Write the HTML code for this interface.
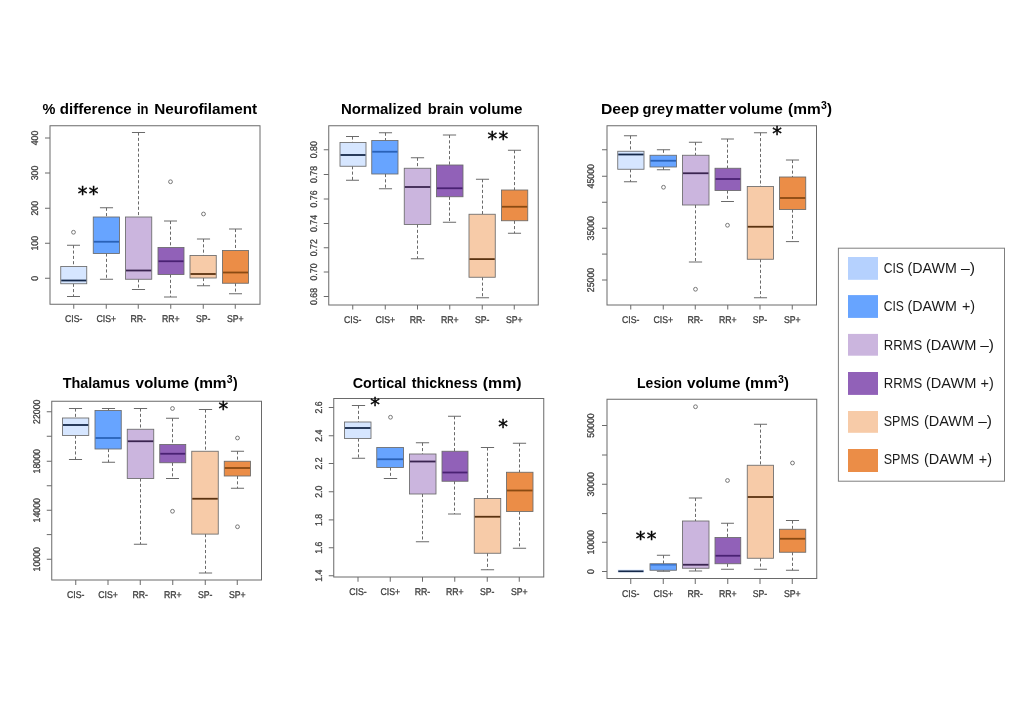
<!DOCTYPE html>
<html lang="en"><head><meta charset="utf-8"><title>Boxplots</title>
<style>
html,body{margin:0;padding:0;background:#fff;}
body{width:1020px;height:720px;overflow:hidden;}
svg{display:block;}
.ti{font-family:"Liberation Sans",Arial,sans-serif;font-weight:bold;font-size:15.5px;fill:#000;}
.ax{font-family:"Liberation Sans",Arial,sans-serif;font-size:9.8px;fill:#404040;stroke:#404040;stroke-width:0.3;text-anchor:middle;text-rendering:geometricPrecision;}
.st{font-family:"DejaVu Sans","Liberation Sans",sans-serif;font-size:19.3px;fill:#000;stroke:#000;stroke-width:0.45;text-anchor:middle;}
.lg{font-family:"Liberation Sans",Arial,sans-serif;font-size:14.6px;fill:#1a1a1a;}
.ln{stroke:#6a6a6a;stroke-width:1;fill:none;}
.wh{stroke:#6a6a6a;stroke-width:1;fill:none;stroke-dasharray:3.1 2.2;}
.ou{stroke:#6a6a6a;stroke-width:0.9;fill:#fff;}
</style></head><body>
<svg width="1020" height="720" viewBox="0 0 1020 720">
<rect x="0" y="0" width="1020" height="720" fill="#ffffff"/>
<g>
<text class="ti"><tspan x="42.5" y="113.75" textLength="12.9" lengthAdjust="spacingAndGlyphs">%</tspan> <tspan x="59.8" y="113.75" textLength="71.9" lengthAdjust="spacingAndGlyphs">difference</tspan> <tspan x="137" y="113.75" textLength="11.6" lengthAdjust="spacingAndGlyphs">in</tspan> <tspan x="154.3" y="113.75" textLength="102.8" lengthAdjust="spacingAndGlyphs">Neurofilament</tspan></text>
<rect class="ln" x="50" y="125.75" width="210" height="178.5"/>
<path class="ln" d="M45 138H50M45 173H50M45 208.25H50M45 243.25H50M45 278.25H50M73.75 304.25V308.75M106.25 304.25V308.75M138.25 304.25V308.75M170.75 304.25V308.75M203.25 304.25V308.75M235.25 304.25V308.75"/>
<text class="ax" transform="translate(38 138) rotate(-90) scale(0.89 1)">400</text>
<text class="ax" transform="translate(38 173) rotate(-90) scale(0.89 1)">300</text>
<text class="ax" transform="translate(38 208.25) rotate(-90) scale(0.89 1)">200</text>
<text class="ax" transform="translate(38 243.25) rotate(-90) scale(0.89 1)">100</text>
<text class="ax" transform="translate(38 278.25) rotate(-90) scale(0.89 1)">0</text>
<text class="ax" transform="translate(73.75 322.2) scale(0.89 1)">CIS-</text>
<text class="ax" transform="translate(106.25 322.2) scale(0.89 1)">CIS+</text>
<text class="ax" transform="translate(138.25 322.2) scale(0.89 1)">RR-</text>
<text class="ax" transform="translate(170.75 322.2) scale(0.89 1)">RR+</text>
<text class="ax" transform="translate(203.25 322.2) scale(0.89 1)">SP-</text>
<text class="ax" transform="translate(235.25 322.2) scale(0.89 1)">SP+</text>
<path class="wh" d="M73.5 245.25V266.5M73.5 283.75V296.5"/>
<path class="ln" d="M67 245.25H80M67 296.5H80"/>
<rect x="60.75" y="266.5" width="26" height="17.25" fill="#d6e6ff" stroke="#6a6a6a" stroke-width="0.85"/>
<path d="M61.25 280.5H86.25" stroke="#16294a" stroke-width="1.8" fill="none"/>
<circle class="ou" cx="73.5" cy="232.25" r="1.9"/>
<path class="wh" d="M106.5 207.75V217M106.5 253.5V279.25"/>
<path class="ln" d="M99.94 207.75H113.06M99.94 279.25H113.06"/>
<rect x="93.25" y="217" width="26.25" height="36.5" fill="#67a4ff" stroke="#6a6a6a" stroke-width="0.85"/>
<path d="M93.75 241.75H119" stroke="#2a62b8" stroke-width="1.8" fill="none"/>
<path class="wh" d="M138.5 132.5V217M138.5 279.25V289.5"/>
<path class="ln" d="M131.94 132.5H145.06M131.94 289.5H145.06"/>
<rect x="125.5" y="217" width="26.25" height="62.25" fill="#cbb5de" stroke="#6a6a6a" stroke-width="0.85"/>
<path d="M126 270.5H151.25" stroke="#3a2450" stroke-width="1.8" fill="none"/>
<path class="wh" d="M170.5 221V247.5M170.5 274.5V297"/>
<path class="ln" d="M164 221H177M164 297H177"/>
<rect x="158" y="247.5" width="26" height="27" fill="#9161b8" stroke="#6a6a6a" stroke-width="0.85"/>
<path d="M158.5 261.25H183.5" stroke="#4a2173" stroke-width="1.8" fill="none"/>
<circle class="ou" cx="170.5" cy="181.75" r="1.9"/>
<path class="wh" d="M203.5 239V255.5M203.5 278V285.75"/>
<path class="ln" d="M196.94 239H210.06M196.94 285.75H210.06"/>
<rect x="190" y="255.5" width="26.25" height="22.5" fill="#f7cba8" stroke="#6a6a6a" stroke-width="0.85"/>
<path d="M190.5 274H215.75" stroke="#5a3210" stroke-width="1.8" fill="none"/>
<circle class="ou" cx="203.5" cy="214" r="1.9"/>
<path class="wh" d="M235.5 229V250.5M235.5 283.25V293.75"/>
<path class="ln" d="M229 229H242M229 293.75H242"/>
<rect x="222.5" y="250.5" width="26" height="32.75" fill="#eb8d47" stroke="#6a6a6a" stroke-width="0.85"/>
<path d="M223 272.5H248" stroke="#8a4a12" stroke-width="1.8" fill="none"/>
<text class="st" x="88.65" y="200.4" letter-spacing="1.35">**</text>
</g>
<g>
<text class="ti"><tspan x="340.9" y="113.75" textLength="80.8" lengthAdjust="spacingAndGlyphs">Normalized</tspan> <tspan x="427.8" y="113.75" textLength="35.9" lengthAdjust="spacingAndGlyphs">brain</tspan> <tspan x="469.2" y="113.75" textLength="53.2" lengthAdjust="spacingAndGlyphs">volume</tspan></text>
<rect class="ln" x="328.75" y="125.75" width="209.5" height="179.25"/>
<path class="ln" d="M323.75 149.75H328.75M323.75 174.5H328.75M323.75 199H328.75M323.75 223.5H328.75M323.75 247.75H328.75M323.75 272H328.75M323.75 296.5H328.75M352.75 305V309.5M385.25 305V309.5M417.5 305V309.5M449.75 305V309.5M482.25 305V309.5M514.25 305V309.5"/>
<text class="ax" transform="translate(317 149.75) rotate(-90) scale(0.89 1)">0.80</text>
<text class="ax" transform="translate(317 174.5) rotate(-90) scale(0.89 1)">0.78</text>
<text class="ax" transform="translate(317 199) rotate(-90) scale(0.89 1)">0.76</text>
<text class="ax" transform="translate(317 223.5) rotate(-90) scale(0.89 1)">0.74</text>
<text class="ax" transform="translate(317 247.75) rotate(-90) scale(0.89 1)">0.72</text>
<text class="ax" transform="translate(317 272) rotate(-90) scale(0.89 1)">0.70</text>
<text class="ax" transform="translate(317 296.5) rotate(-90) scale(0.89 1)">0.68</text>
<text class="ax" transform="translate(352.75 323.2) scale(0.89 1)">CIS-</text>
<text class="ax" transform="translate(385.25 323.2) scale(0.89 1)">CIS+</text>
<text class="ax" transform="translate(417.5 323.2) scale(0.89 1)">RR-</text>
<text class="ax" transform="translate(449.75 323.2) scale(0.89 1)">RR+</text>
<text class="ax" transform="translate(482.25 323.2) scale(0.89 1)">SP-</text>
<text class="ax" transform="translate(514.25 323.2) scale(0.89 1)">SP+</text>
<path class="wh" d="M352.5 136.5V142.5M352.5 166.25V180.25"/>
<path class="ln" d="M346 136.5H359M346 180.25H359"/>
<rect x="340" y="142.5" width="26" height="23.75" fill="#d6e6ff" stroke="#6a6a6a" stroke-width="0.85"/>
<path d="M340.5 155H365.5" stroke="#16294a" stroke-width="1.8" fill="none"/>
<path class="wh" d="M385.5 132.75V140.5M385.5 174V188.75"/>
<path class="ln" d="M378.94 132.75H392.06M378.94 188.75H392.06"/>
<rect x="371.75" y="140.5" width="26.25" height="33.5" fill="#67a4ff" stroke="#6a6a6a" stroke-width="0.85"/>
<path d="M372.25 151.75H397.5" stroke="#2a62b8" stroke-width="1.8" fill="none"/>
<path class="wh" d="M417.5 157.75V168.25M417.5 224.5V258.75"/>
<path class="ln" d="M410.88 157.75H424.12M410.88 258.75H424.12"/>
<rect x="404.25" y="168.25" width="26.5" height="56.25" fill="#cbb5de" stroke="#6a6a6a" stroke-width="0.85"/>
<path d="M404.75 187H430.25" stroke="#3a2450" stroke-width="1.8" fill="none"/>
<path class="wh" d="M449.5 135V165M449.5 196.75V222.25"/>
<path class="ln" d="M442.88 135H456.12M442.88 222.25H456.12"/>
<rect x="436.5" y="165" width="26.5" height="31.75" fill="#9161b8" stroke="#6a6a6a" stroke-width="0.85"/>
<path d="M437 188.25H462.5" stroke="#4a2173" stroke-width="1.8" fill="none"/>
<path class="wh" d="M482.5 179.25V214.25M482.5 277.25V297.75"/>
<path class="ln" d="M475.94 179.25H489.06M475.94 297.75H489.06"/>
<rect x="469" y="214.25" width="26.25" height="63" fill="#f7cba8" stroke="#6a6a6a" stroke-width="0.85"/>
<path d="M469.5 259.1H494.75" stroke="#5a3210" stroke-width="1.8" fill="none"/>
<path class="wh" d="M514.5 150.25V190M514.5 220.75V233.25"/>
<path class="ln" d="M507.94 150.25H521.06M507.94 233.25H521.06"/>
<rect x="501.5" y="190" width="26.25" height="30.75" fill="#eb8d47" stroke="#6a6a6a" stroke-width="0.85"/>
<path d="M502 206.75H527.25" stroke="#8a4a12" stroke-width="1.8" fill="none"/>
<text class="st" x="498.4" y="145.1" letter-spacing="1.35">**</text>
</g>
<g>
<text class="ti"><tspan x="600.9" y="113.75" textLength="38.3" lengthAdjust="spacingAndGlyphs">Deep</tspan> <tspan x="642.5" y="113.75" textLength="30.8" lengthAdjust="spacingAndGlyphs">grey</tspan> <tspan x="675.5" y="113.75" textLength="50.3" lengthAdjust="spacingAndGlyphs">matter</tspan> <tspan x="728.9" y="113.75" textLength="53.8" lengthAdjust="spacingAndGlyphs">volume</tspan> <tspan x="788.1" y="113.75" textLength="32.6" lengthAdjust="spacingAndGlyphs">(mm</tspan><tspan x="820.9" y="108.75" font-size="10.5">3</tspan><tspan x="826.9" y="113.75" textLength="5" lengthAdjust="spacingAndGlyphs">)</tspan></text>
<rect class="ln" x="607" y="125.75" width="209.5" height="179.25"/>
<path class="ln" d="M602 149.75H607M602 176.25H607M602 202.25H607M602 228.25H607M602 254.1H607M602 280H607M630.75 305V309.5M663.25 305V309.5M695.25 305V309.5M727.75 305V309.5M760 305V309.5M792.25 305V309.5"/>
<text class="ax" transform="translate(594.25 176.25) rotate(-90) scale(0.89 1)">45000</text>
<text class="ax" transform="translate(594.25 228.25) rotate(-90) scale(0.89 1)">35000</text>
<text class="ax" transform="translate(594.25 280) rotate(-90) scale(0.89 1)">25000</text>
<text class="ax" transform="translate(630.75 323.2) scale(0.89 1)">CIS-</text>
<text class="ax" transform="translate(663.25 323.2) scale(0.89 1)">CIS+</text>
<text class="ax" transform="translate(695.25 323.2) scale(0.89 1)">RR-</text>
<text class="ax" transform="translate(727.75 323.2) scale(0.89 1)">RR+</text>
<text class="ax" transform="translate(760 323.2) scale(0.89 1)">SP-</text>
<text class="ax" transform="translate(792.25 323.2) scale(0.89 1)">SP+</text>
<path class="wh" d="M630.5 135.75V151.25M630.5 169.25V181.75"/>
<path class="ln" d="M623.94 135.75H637.06M623.94 181.75H637.06"/>
<rect x="617.75" y="151.25" width="26.25" height="18" fill="#d6e6ff" stroke="#6a6a6a" stroke-width="0.85"/>
<path d="M618.25 154.5H643.5" stroke="#16294a" stroke-width="1.8" fill="none"/>
<path class="wh" d="M663.5 149.75V155.25M663.5 167V169.75"/>
<path class="ln" d="M656.88 149.75H670.12M656.88 169.75H670.12"/>
<rect x="650" y="155.25" width="26.5" height="11.75" fill="#67a4ff" stroke="#6a6a6a" stroke-width="0.85"/>
<path d="M650.5 160.75H676" stroke="#2a62b8" stroke-width="1.8" fill="none"/>
<circle class="ou" cx="663.5" cy="187.25" r="1.9"/>
<path class="wh" d="M695.5 142.25V155.25M695.5 205V262"/>
<path class="ln" d="M688.88 142.25H702.12M688.88 262H702.12"/>
<rect x="682.5" y="155.25" width="26.5" height="49.75" fill="#cbb5de" stroke="#6a6a6a" stroke-width="0.85"/>
<path d="M683 173.25H708.5" stroke="#3a2450" stroke-width="1.8" fill="none"/>
<circle class="ou" cx="695.5" cy="289.25" r="1.9"/>
<path class="wh" d="M727.5 139V168.25M727.5 190.5V201.5"/>
<path class="ln" d="M721.06 139H733.94M721.06 201.5H733.94"/>
<rect x="715" y="168.25" width="25.75" height="22.25" fill="#9161b8" stroke="#6a6a6a" stroke-width="0.85"/>
<path d="M715.5 179H740.25" stroke="#4a2173" stroke-width="1.8" fill="none"/>
<circle class="ou" cx="727.5" cy="225.25" r="1.9"/>
<path class="wh" d="M760.5 132.75V186.5M760.5 259.25V297.75"/>
<path class="ln" d="M753.94 132.75H767.06M753.94 297.75H767.06"/>
<rect x="747.25" y="186.5" width="26.25" height="72.75" fill="#f7cba8" stroke="#6a6a6a" stroke-width="0.85"/>
<path d="M747.75 226.75H773" stroke="#5a3210" stroke-width="1.8" fill="none"/>
<path class="wh" d="M792.5 160V177M792.5 209.5V241.6"/>
<path class="ln" d="M785.94 160H799.06M785.94 241.6H799.06"/>
<rect x="779.5" y="177" width="26.25" height="32.5" fill="#eb8d47" stroke="#6a6a6a" stroke-width="0.85"/>
<path d="M780 198H805.25" stroke="#8a4a12" stroke-width="1.8" fill="none"/>
<text class="st" x="777" y="140.15">*</text>
</g>
<g>
<text class="ti"><tspan x="62.7" y="387.5" textLength="67.3" lengthAdjust="spacingAndGlyphs">Thalamus</tspan> <tspan x="135.4" y="387.5" textLength="53.7" lengthAdjust="spacingAndGlyphs">volume</tspan> <tspan x="194" y="387.5" textLength="32.6" lengthAdjust="spacingAndGlyphs">(mm</tspan><tspan x="226.8" y="382.5" font-size="10.5">3</tspan><tspan x="233.1" y="387.5" textLength="4.7" lengthAdjust="spacingAndGlyphs">)</tspan></text>
<rect class="ln" x="51.75" y="401.25" width="209.75" height="178.75"/>
<path class="ln" d="M46.75 411.75H51.75M46.75 436.25H51.75M46.75 461.25H51.75M46.75 485.75H51.75M46.75 510.25H51.75M46.75 534.6H51.75M46.75 559.25H51.75M75.75 580V585M108 580V585M140.25 580V585M172.75 580V585M205.25 580V585M237.25 580V585"/>
<text class="ax" transform="translate(39.5 411.75) rotate(-90) scale(0.89 1)">22000</text>
<text class="ax" transform="translate(39.5 461.25) rotate(-90) scale(0.89 1)">18000</text>
<text class="ax" transform="translate(39.5 510.25) rotate(-90) scale(0.89 1)">14000</text>
<text class="ax" transform="translate(39.5 559.25) rotate(-90) scale(0.89 1)">10000</text>
<text class="ax" transform="translate(75.75 598.45) scale(0.89 1)">CIS-</text>
<text class="ax" transform="translate(108 598.45) scale(0.89 1)">CIS+</text>
<text class="ax" transform="translate(140.25 598.45) scale(0.89 1)">RR-</text>
<text class="ax" transform="translate(172.75 598.45) scale(0.89 1)">RR+</text>
<text class="ax" transform="translate(205.25 598.45) scale(0.89 1)">SP-</text>
<text class="ax" transform="translate(237.25 598.45) scale(0.89 1)">SP+</text>
<path class="wh" d="M75.5 408.5V418M75.5 435.5V459.5"/>
<path class="ln" d="M68.94 408.5H82.06M68.94 459.5H82.06"/>
<rect x="62.5" y="418" width="26.25" height="17.5" fill="#d6e6ff" stroke="#6a6a6a" stroke-width="0.85"/>
<path d="M63 425H88.25" stroke="#16294a" stroke-width="1.8" fill="none"/>
<path class="wh" d="M108.5 408.5V410.5M108.5 449V462.25"/>
<path class="ln" d="M101.94 408.5H115.06M101.94 462.25H115.06"/>
<rect x="95" y="410.5" width="26.25" height="38.5" fill="#67a4ff" stroke="#6a6a6a" stroke-width="0.85"/>
<path d="M95.5 438H120.75" stroke="#2a62b8" stroke-width="1.8" fill="none"/>
<path class="wh" d="M140.5 408.5V429.25M140.5 478.5V544.25"/>
<path class="ln" d="M133.88 408.5H147.12M133.88 544.25H147.12"/>
<rect x="127.25" y="429.25" width="26.5" height="49.25" fill="#cbb5de" stroke="#6a6a6a" stroke-width="0.85"/>
<path d="M127.75 441.25H153.25" stroke="#3a2450" stroke-width="1.8" fill="none"/>
<path class="wh" d="M172.5 418.25V444.5M172.5 462.75V478.5"/>
<path class="ln" d="M166 418.25H179M166 478.5H179"/>
<rect x="159.75" y="444.5" width="26" height="18.25" fill="#9161b8" stroke="#6a6a6a" stroke-width="0.85"/>
<path d="M160.25 453.75H185.25" stroke="#4a2173" stroke-width="1.8" fill="none"/>
<circle class="ou" cx="172.5" cy="408.5" r="1.9"/>
<circle class="ou" cx="172.5" cy="511.25" r="1.9"/>
<path class="wh" d="M205.5 409.5V451.25M205.5 534.1V573"/>
<path class="ln" d="M198.88 409.5H212.12M198.88 573H212.12"/>
<rect x="191.75" y="451.25" width="26.5" height="82.85" fill="#f7cba8" stroke="#6a6a6a" stroke-width="0.85"/>
<path d="M192.25 498.75H217.75" stroke="#5a3210" stroke-width="1.8" fill="none"/>
<path class="wh" d="M237.5 451.25V461.25M237.5 476V488.25"/>
<path class="ln" d="M230.94 451.25H244.06M230.94 488.25H244.06"/>
<rect x="224.25" y="461.25" width="26.25" height="14.75" fill="#eb8d47" stroke="#6a6a6a" stroke-width="0.85"/>
<path d="M224.75 468H250" stroke="#8a4a12" stroke-width="1.8" fill="none"/>
<circle class="ou" cx="237.5" cy="438" r="1.9"/>
<circle class="ou" cx="237.5" cy="526.75" r="1.9"/>
<text class="st" x="223.4" y="415">*</text>
</g>
<g>
<text class="ti"><tspan x="352.7" y="387.5" textLength="53.5" lengthAdjust="spacingAndGlyphs">Cortical</tspan> <tspan x="411.8" y="387.5" textLength="65.8" lengthAdjust="spacingAndGlyphs">thickness</tspan> <tspan x="482.8" y="387.5" textLength="38.7" lengthAdjust="spacingAndGlyphs">(mm)</tspan></text>
<rect class="ln" x="333.75" y="398.5" width="210" height="178.5"/>
<path class="ln" d="M328.75 407.5H333.75M328.75 435.75H333.75M328.75 463.5H333.75M328.75 491.75H333.75M328.75 519.9H333.75M328.75 547.75H333.75M328.75 575.75H333.75M358 577V581.75M390.25 577V581.75M422.5 577V581.75M454.75 577V581.75M487.25 577V581.75M519.25 577V581.75"/>
<text class="ax" transform="translate(321.75 407.5) rotate(-90) scale(0.89 1)">2.6</text>
<text class="ax" transform="translate(321.75 435.75) rotate(-90) scale(0.89 1)">2.4</text>
<text class="ax" transform="translate(321.75 463.5) rotate(-90) scale(0.89 1)">2.2</text>
<text class="ax" transform="translate(321.75 491.75) rotate(-90) scale(0.89 1)">2.0</text>
<text class="ax" transform="translate(321.75 519.9) rotate(-90) scale(0.89 1)">1.8</text>
<text class="ax" transform="translate(321.75 547.75) rotate(-90) scale(0.89 1)">1.6</text>
<text class="ax" transform="translate(321.75 575.75) rotate(-90) scale(0.89 1)">1.4</text>
<text class="ax" transform="translate(358 595.2) scale(0.89 1)">CIS-</text>
<text class="ax" transform="translate(390.25 595.2) scale(0.89 1)">CIS+</text>
<text class="ax" transform="translate(422.5 595.2) scale(0.89 1)">RR-</text>
<text class="ax" transform="translate(454.75 595.2) scale(0.89 1)">RR+</text>
<text class="ax" transform="translate(487.25 595.2) scale(0.89 1)">SP-</text>
<text class="ax" transform="translate(519.25 595.2) scale(0.89 1)">SP+</text>
<path class="wh" d="M358.5 405.5V422M358.5 438.5V458.25"/>
<path class="ln" d="M351.88 405.5H365.12M351.88 458.25H365.12"/>
<rect x="344.5" y="422" width="26.5" height="16.5" fill="#d6e6ff" stroke="#6a6a6a" stroke-width="0.85"/>
<path d="M345 428H370.5" stroke="#16294a" stroke-width="1.8" fill="none"/>
<path class="wh" d="M390.5 467.5V478.5"/>
<path class="ln" d="M383.81 478.5H397.19"/>
<rect x="376.75" y="447.5" width="26.75" height="20" fill="#67a4ff" stroke="#6a6a6a" stroke-width="0.85"/>
<path d="M377.25 459.25H403" stroke="#2a62b8" stroke-width="1.8" fill="none"/>
<circle class="ou" cx="390.5" cy="417.25" r="1.9"/>
<path class="wh" d="M422.5 442.75V454M422.5 494V541.75"/>
<path class="ln" d="M415.88 442.75H429.12M415.88 541.75H429.12"/>
<rect x="409.5" y="454" width="26.5" height="40" fill="#cbb5de" stroke="#6a6a6a" stroke-width="0.85"/>
<path d="M410 461.5H435.5" stroke="#3a2450" stroke-width="1.8" fill="none"/>
<path class="wh" d="M454.5 416.25V451.25M454.5 481.25V514"/>
<path class="ln" d="M448 416.25H461M448 514H461"/>
<rect x="442" y="451.25" width="26" height="30" fill="#9161b8" stroke="#6a6a6a" stroke-width="0.85"/>
<path d="M442.5 472.5H467.5" stroke="#4a2173" stroke-width="1.8" fill="none"/>
<path class="wh" d="M487.5 447.5V498.5M487.5 553.25V569.75"/>
<path class="ln" d="M480.88 447.5H494.12M480.88 569.75H494.12"/>
<rect x="474.25" y="498.5" width="26.5" height="54.75" fill="#f7cba8" stroke="#6a6a6a" stroke-width="0.85"/>
<path d="M474.75 516.75H500.25" stroke="#5a3210" stroke-width="1.8" fill="none"/>
<path class="wh" d="M519.5 443.25V472.25M519.5 511.5V548.25"/>
<path class="ln" d="M512.88 443.25H526.12M512.88 548.25H526.12"/>
<rect x="506.5" y="472.25" width="26.5" height="39.25" fill="#eb8d47" stroke="#6a6a6a" stroke-width="0.85"/>
<path d="M507 490.5H532.5" stroke="#8a4a12" stroke-width="1.8" fill="none"/>
<text class="st" x="375" y="411.4">*</text>
<text class="st" x="503" y="433.4">*</text>
</g>
<g>
<text class="ti"><tspan x="637.1" y="387.5" textLength="45" lengthAdjust="spacingAndGlyphs">Lesion</tspan> <tspan x="686.9" y="387.5" textLength="53.5" lengthAdjust="spacingAndGlyphs">volume</tspan> <tspan x="744.9" y="387.5" textLength="32.9" lengthAdjust="spacingAndGlyphs">(mm</tspan><tspan x="777.9" y="382.5" font-size="10.5">3</tspan><tspan x="784" y="387.5" textLength="4.9" lengthAdjust="spacingAndGlyphs">)</tspan></text>
<rect class="ln" x="607" y="399.25" width="209.75" height="179.25"/>
<path class="ln" d="M602 425.5H607M602 455H607M602 484.25H607M602 513.6H607M602 542.25H607M602 571.5H607M630.75 578.5V584M663.25 578.5V584M695.25 578.5V584M727.75 578.5V584M760 578.5V584M792.25 578.5V584"/>
<text class="ax" transform="translate(594.25 425.5) rotate(-90) scale(0.89 1)">50000</text>
<text class="ax" transform="translate(594.25 484.25) rotate(-90) scale(0.89 1)">30000</text>
<text class="ax" transform="translate(594.25 542.25) rotate(-90) scale(0.89 1)">10000</text>
<text class="ax" transform="translate(594.25 571.5) rotate(-90) scale(0.89 1)">0</text>
<text class="ax" transform="translate(630.75 597.2) scale(0.89 1)">CIS-</text>
<text class="ax" transform="translate(663.25 597.2) scale(0.89 1)">CIS+</text>
<text class="ax" transform="translate(695.25 597.2) scale(0.89 1)">RR-</text>
<text class="ax" transform="translate(727.75 597.2) scale(0.89 1)">RR+</text>
<text class="ax" transform="translate(760 597.2) scale(0.89 1)">SP-</text>
<text class="ax" transform="translate(792.25 597.2) scale(0.89 1)">SP+</text>
<rect x="617.75" y="569.6" width="26.25" height="2.7" fill="#d6e6ff" stroke="none" stroke-width="0.85"/>
<path d="M618.25 571.3H643.5" stroke="#16294a" stroke-width="1.7" fill="none"/>
<path class="wh" d="M663.5 555.25V563.75M663.5 570.25V571.25"/>
<path class="ln" d="M656.88 555.25H670.12M656.88 571.25H670.12"/>
<rect x="650" y="563.75" width="26.5" height="6.5" fill="#67a4ff" stroke="#6a6a6a" stroke-width="0.85"/>
<path d="M650.5 564.9H676" stroke="#2a62b8" stroke-width="1" fill="none"/>
<path class="wh" d="M695.5 498V521M695.5 568.25V571"/>
<path class="ln" d="M688.88 498H702.12M688.88 571H702.12"/>
<rect x="682.5" y="521" width="26.5" height="47.25" fill="#cbb5de" stroke="#6a6a6a" stroke-width="0.85"/>
<path d="M683 564.75H708.5" stroke="#3a2450" stroke-width="1.8" fill="none"/>
<circle class="ou" cx="695.5" cy="406.75" r="1.9"/>
<path class="wh" d="M727.5 523.25V537.5M727.5 563.75V569.25"/>
<path class="ln" d="M721.06 523.25H733.94M721.06 569.25H733.94"/>
<rect x="715" y="537.5" width="25.75" height="26.25" fill="#9161b8" stroke="#6a6a6a" stroke-width="0.85"/>
<path d="M715.5 555.75H740.25" stroke="#4a2173" stroke-width="1.8" fill="none"/>
<circle class="ou" cx="727.5" cy="480.5" r="1.9"/>
<path class="wh" d="M760.5 424.25V465.25M760.5 558.25V569.25"/>
<path class="ln" d="M753.94 424.25H767.06M753.94 569.25H767.06"/>
<rect x="747.25" y="465.25" width="26.25" height="93" fill="#f7cba8" stroke="#6a6a6a" stroke-width="0.85"/>
<path d="M747.75 497H773" stroke="#5a3210" stroke-width="1.8" fill="none"/>
<path class="wh" d="M792.5 520.5V529.25M792.5 552.25V570.25"/>
<path class="ln" d="M785.94 520.5H799.06M785.94 570.25H799.06"/>
<rect x="779.5" y="529.25" width="26.25" height="23" fill="#eb8d47" stroke="#6a6a6a" stroke-width="0.85"/>
<path d="M780 538.75H805.25" stroke="#8a4a12" stroke-width="1.8" fill="none"/>
<circle class="ou" cx="792.5" cy="463" r="1.9"/>
<text class="st" x="646.65" y="545.4" letter-spacing="1.35">**</text>
</g>
<g>
<rect x="838.4" y="248.2" width="166.1" height="233" fill="#fff" stroke="#7f7f7f" stroke-width="1"/>
<rect x="848" y="257" width="30" height="22.8" fill="#b5d1fe"/>
<text class="lg"><tspan x="883.7" y="272.9" textLength="20.2" lengthAdjust="spacingAndGlyphs">CIS</tspan> <tspan x="907.6" y="272.9" textLength="49.3" lengthAdjust="spacingAndGlyphs">(DAWM</tspan> <tspan x="961" y="272.9" textLength="14.1" lengthAdjust="spacingAndGlyphs">–)</tspan></text>
<rect x="848" y="295.1" width="30" height="22.8" fill="#67a4ff"/>
<text class="lg"><tspan x="883.7" y="311" textLength="20.2" lengthAdjust="spacingAndGlyphs">CIS</tspan> <tspan x="907.6" y="311" textLength="49.3" lengthAdjust="spacingAndGlyphs">(DAWM</tspan> <tspan x="961.9" y="311" textLength="13.2" lengthAdjust="spacingAndGlyphs">+)</tspan></text>
<rect x="848" y="333.9" width="30" height="21.8" fill="#cbb5de"/>
<text class="lg"><tspan x="883.7" y="349.5" textLength="38.5" lengthAdjust="spacingAndGlyphs">RRMS</tspan> <tspan x="925.9" y="349.5" textLength="50.6" lengthAdjust="spacingAndGlyphs">(DAWM</tspan> <tspan x="980.2" y="349.5" textLength="13.7" lengthAdjust="spacingAndGlyphs">–)</tspan></text>
<rect x="848" y="372" width="30" height="22.9" fill="#9161b8"/>
<text class="lg"><tspan x="883.7" y="387.5" textLength="38.5" lengthAdjust="spacingAndGlyphs">RRMS</tspan> <tspan x="925.9" y="387.5" textLength="50.6" lengthAdjust="spacingAndGlyphs">(DAWM</tspan> <tspan x="980.6" y="387.5" textLength="13.3" lengthAdjust="spacingAndGlyphs">+)</tspan></text>
<rect x="848" y="411" width="30" height="21.8" fill="#f7cba8"/>
<text class="lg"><tspan x="883.7" y="425.7" textLength="35.5" lengthAdjust="spacingAndGlyphs">SPMS</tspan> <tspan x="923.9" y="425.7" textLength="50.2" lengthAdjust="spacingAndGlyphs">(DAWM</tspan> <tspan x="978.2" y="425.7" textLength="13.8" lengthAdjust="spacingAndGlyphs">–)</tspan></text>
<rect x="848" y="449" width="30" height="23" fill="#eb8d47"/>
<text class="lg"><tspan x="883.7" y="464.3" textLength="35.5" lengthAdjust="spacingAndGlyphs">SPMS</tspan> <tspan x="923.9" y="464.3" textLength="50.2" lengthAdjust="spacingAndGlyphs">(DAWM</tspan> <tspan x="978.8" y="464.3" textLength="13.2" lengthAdjust="spacingAndGlyphs">+)</tspan></text>
</g>
</svg>
</body></html>
